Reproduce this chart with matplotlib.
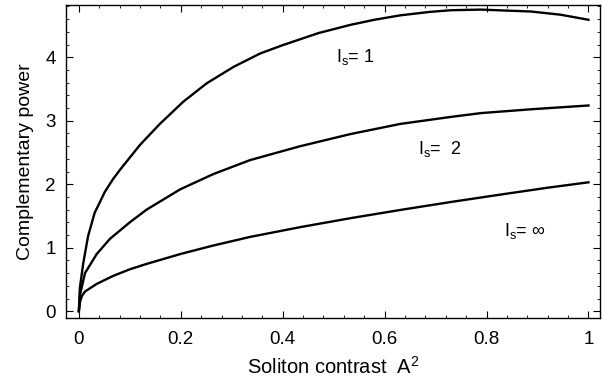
import numpy as np
import matplotlib
matplotlib.use("Agg")
from matplotlib import pyplot as plt
from matplotlib.ticker import MultipleLocator

plt.rcParams['font.family'] = ['Liberation Sans', 'DejaVu Sans']
plt.rcParams['mathtext.fontset'] = 'custom'
plt.rcParams['mathtext.rm'] = 'Liberation Sans'

# curves
x1 = [0, 0.002, 0.0085, 0.018, 0.031, 0.051, 0.067, 0.081, 0.12, 0.159, 0.205, 0.251,
      0.304, 0.356, 0.4, 0.47, 0.533, 0.58, 0.631, 0.69, 0.73, 0.789, 0.887, 0.945, 1.0]
y1 = [0, 0.37, 0.75, 1.18, 1.55, 1.88, 2.08, 2.23, 2.62, 2.95, 3.30, 3.59,
      3.85, 4.06, 4.19, 4.38, 4.51, 4.59, 4.66, 4.715, 4.74, 4.75, 4.72, 4.67, 4.59]

x2 = [0, 0.002, 0.012, 0.035, 0.061, 0.1, 0.133, 0.199, 0.264, 0.336, 0.435, 0.533,
      0.631, 0.73, 0.789, 0.887, 1.0]
y2 = [0, 0.25, 0.60, 0.90, 1.14, 1.40, 1.60, 1.92, 2.16, 2.38, 2.60, 2.79,
      2.95, 3.06, 3.12, 3.18, 3.24]

x3 = [0, 0.002, 0.006, 0.012, 0.035, 0.067, 0.1, 0.133, 0.199, 0.264, 0.336, 0.435,
      0.533, 0.631, 0.73, 0.83, 0.92, 1.0]
y3 = [0, 0.14, 0.24, 0.31, 0.43, 0.555, 0.66, 0.745, 0.90, 1.035, 1.17, 1.325,
      1.465, 1.595, 1.72, 1.84, 1.945, 2.03]

labels = [r'$\mathregular{I_s}$= 1', r'$\mathregular{I_s}$=  2', r'$\mathregular{I_s}$= $\infty$']
label_pos = [(0.505, 4.0), (0.665, 2.55), (0.835, 1.27)]

fig = plt.figure(figsize=(6.02, 3.77), dpi=100)
ax = fig.add_axes([0.109, 0.156, 0.888, 0.832])

for xs, ys in [(x1, y1), (x2, y2), (x3, y3)]:
    ax.plot(xs, ys, color='black', lw=1.7, solid_joinstyle='round')

for lab, (lx, ly) in zip(labels, label_pos):
    ax.text(lx, ly, lab, fontsize=13, va='center', ha='left')

ax.set_xlim(-0.026, 1.023)
ax.set_ylim(-0.11, 4.83)
ax.set_xticks([0, 0.2, 0.4, 0.6, 0.8, 1])
ax.set_xticklabels(['0', '0.2', '0.4', '0.6', '0.8', '1'])
ax.set_yticks([0, 1, 2, 3, 4])
ax.xaxis.set_minor_locator(MultipleLocator(0.04))
ax.yaxis.set_minor_locator(MultipleLocator(0.2))
ax.tick_params(which='both', direction='in', top=True, right=True, labelsize=13.5)
ax.tick_params(axis='x', which='major', pad=9)
ax.tick_params(axis='y', which='major', pad=7)
ax.tick_params(which='major', length=5, width=0.8)
ax.tick_params(which='minor', length=2.5, width=0.6)
for s in ax.spines.values():
    s.set_linewidth(1.0)
ax.set_xlabel(r'Soliton contrast  A$^2$', fontsize=14.5, labelpad=6)
ax.set_ylabel('Complementary power', fontsize=14, labelpad=8)

fig.savefig('out.png', dpi=100)
